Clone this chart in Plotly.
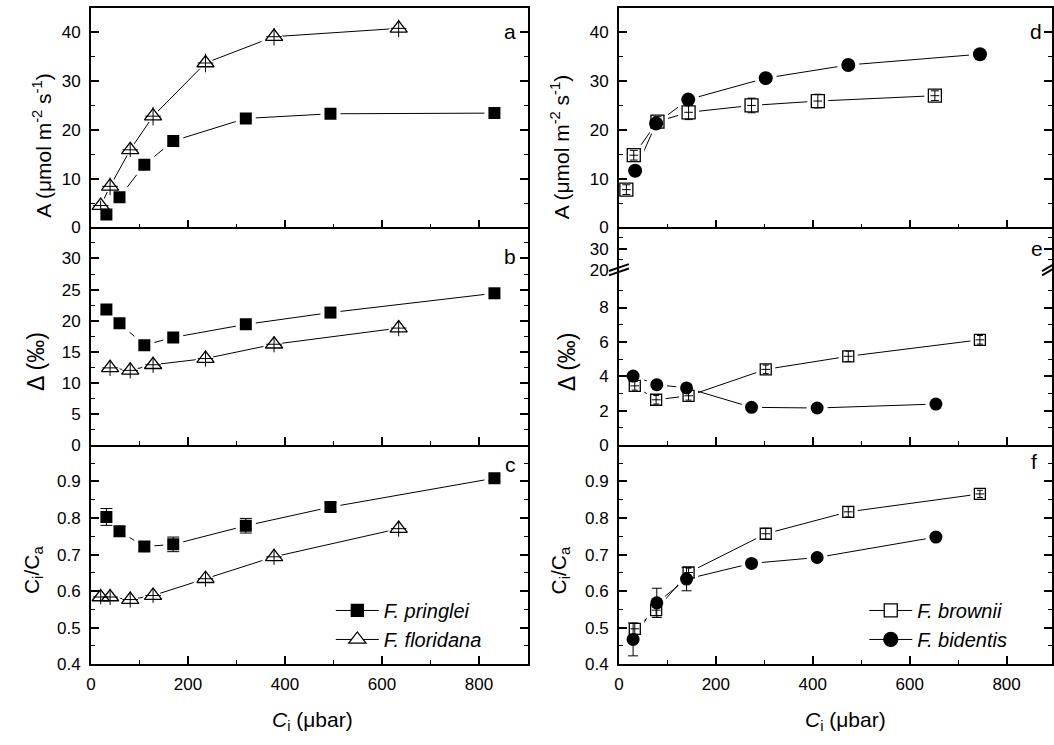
import plotly.graph_objects as go

# ---------------- data ----------------
# F. pringlei (filled squares), panels a-c
pr_ci = [31.9, 58.9, 110.1, 169.7, 319.3, 493.8, 831.8]
pr_A = [2.65, 6.18, 12.84, 17.72, 22.34, 23.29, 23.43]
pr_D = [21.8, 19.6, 16.05, 17.3, 19.4, 21.3, 24.4]
pr_CiCa = [0.803, 0.764, 0.722, 0.728, 0.779, 0.830, 0.909]
pr_CiCa_err = [0.023, 0.013, 0.012, 0.020, 0.020, 0.012, 0.008]

# F. floridana (open triangles), panels a-c
fl_ci = [20.1, 39.5, 81.0, 128.1, 236.2, 377.5, 634.4]
fl_A = [4.48, 8.42, 15.9, 22.8, 33.7, 39.1, 40.8]
fl_A_err = [1.0, 1.8, 1.5, 1.9, 1.9, 1.8, 1.8]
fl_D_ci = [39.5, 81.0, 128.1, 236.2, 377.5, 634.4]
fl_D = [12.4, 12.0, 12.9, 13.9, 16.2, 18.8]
fl_D_err = [1.3, 1.3, 1.3, 1.3, 1.3, 1.3]
fl_CiCa = [0.584, 0.584, 0.577, 0.588, 0.634, 0.694, 0.771]
fl_CiCa_err = [0.020, 0.022, 0.022, 0.020, 0.022, 0.022, 0.022]
fl_ci_err = [16, 16, 16, 16, 16, 16, 16]

# F. brownii (open squares), panels d-f
br_ci_d = [15.4, 30.7, 79.6, 143.8, 273.7, 410.5, 652.0]
br_A = [7.74, 14.8, 21.7, 23.6, 25.0, 25.9, 27.0]
br_A_err = [1.0, 1.0, 1.0, 1.5, 1.5, 1.4, 1.0]
br_ci_ef = [32.8, 76.8, 143.8, 303.0, 473.3, 744.9]
br_D = [3.44, 2.63, 2.86, 4.40, 5.16, 6.12]
br_D_err = [0.25, 0.25, 0.25, 0.25, 0.3, 0.25]
br_CiCa = [0.497, 0.548, 0.651, 0.757, 0.817, 0.866]
br_CiCa_err = [0.015, 0.015, 0.012, 0.015, 0.014, 0.010]
br_ci_err = [9, 9, 9, 9, 9, 9, 9]

# F. bidentis (filled circles), panels d-f
bi_ci_d = [33.5, 76.8, 143.1, 303.0, 473.3, 745.0]
bi_A = [11.6, 21.3, 26.2, 30.6, 33.3, 35.5]
bi_ci_ef = [29.3, 78.2, 139.6, 273.7, 409.1, 654.1]
bi_D = [4.01, 3.51, 3.32, 2.19, 2.15, 2.38]
bi_CiCa = [0.468, 0.568, 0.633, 0.676, 0.692, 0.748]
bi_CiCa_err = [0.045, 0.040, 0.032, 0.010, 0.010, 0.010]

x_ticks = [0, 200, 400, 600, 800]
x_minor = [100, 300, 500, 700]

# ---------------- helpers ----------------
W, H = 1054, 745
FONT = "Liberation Sans, Arial, Helvetica, sans-serif"


def px(v):
    return v / W


def py(v):
    return 1 - v / H


series = []


def add(xa, ya, x, y, sym, size, filled, name=None, legend=None,
        ex=None, ey=None, capx=0, capy=0):
    series.append(dict(xa=xa, ya=ya, x=x, y=y, sym=sym, size=size, filled=filled,
                       name=name, legend=legend, ex=ex, ey=ey, capx=capx, capy=capy))


# panel a
add('x', 'y', pr_ci, pr_A, 'square', 12, True, '<i>F. pringlei</i>', 'legend')
add('x', 'y', fl_ci, fl_A, 'triangle-up', 15, False, '<i>F. floridana</i>', 'legend',
    ex=fl_ci_err, ey=fl_A_err)
# panel b
add('x2', 'y2', pr_ci, pr_D, 'square', 12, True)
add('x2', 'y2', fl_D_ci, fl_D, 'triangle-up', 15, False, ex=fl_ci_err[:6], ey=fl_D_err)
# panel c
add('x3', 'y3', pr_ci, pr_CiCa, 'square', 12, True, ey=pr_CiCa_err, capy=6)
add('x3', 'y3', fl_ci, fl_CiCa, 'triangle-up', 15, False, ex=fl_ci_err, ey=fl_CiCa_err)
# panel d
add('x4', 'y4', br_ci_d, br_A, 'square', 13, False, '<i>F. brownii</i>', 'legend2',
    ex=br_ci_err, ey=br_A_err, capx=0, capy=4)
add('x4', 'y4', bi_ci_d, bi_A, 'circle', 14, True, '<i>F. bidentis</i>', 'legend2')
# panel e
add('x5', 'y5', br_ci_ef, br_D, 'square', 11, False, ex=br_ci_err[:6], ey=br_D_err, capy=3)
add('x5', 'y5', bi_ci_ef, bi_D, 'circle', 13, True)
# panel f
add('x6', 'y6', br_ci_ef, br_CiCa, 'square', 11, False, ex=br_ci_err[:6], ey=br_CiCa_err, capy=3)
add('x6', 'y6', bi_ci_ef, bi_CiCa, 'circle', 13, True, ey=bi_CiCa_err, capy=5)

fig = go.Figure()

# pass 1: connecting lines (and legend entries)
for s in series:
    fill = 'black' if s['filled'] else 'white'
    fig.add_trace(go.Scatter(
        x=s['x'], y=s['y'], xaxis=s['xa'], yaxis=s['ya'],
        mode='lines+markers' if s['name'] else 'lines',
        line=dict(color='black', width=1),
        marker=dict(symbol=s['sym'], size=s['size'], color=fill,
                    line=dict(color='black', width=1.3)),
        name=s['name'] or '', showlegend=bool(s['name']),
        legend=s['legend'] or 'legend', hoverinfo='skip'))

# pass 2: white halos (gap between line and marker)
for s in series:
    fig.add_trace(go.Scatter(
        x=s['x'], y=s['y'], xaxis=s['xa'], yaxis=s['ya'], mode='markers',
        marker=dict(symbol=s['sym'], size=s['size'] + 8, color='white',
                    line=dict(width=0)),
        showlegend=False, hoverinfo='skip'))

# pass 3: markers with error bars
for s in series:
    if s['filled']:
        mk = dict(symbol=s['sym'], size=s['size'], color='black', line=dict(width=0))
    else:
        mk = dict(symbol=s['sym'] + '-open', size=s['size'], color='black',
                  line=dict(color='black', width=1.3))
    kw = {}
    if s['ex'] is not None:
        kw['error_x'] = dict(type='data', array=s['ex'], visible=True, color='black',
                             thickness=1, width=s['capx'])
    if s['ey'] is not None:
        kw['error_y'] = dict(type='data', array=s['ey'], visible=True, color='black',
                             thickness=1, width=s['capy'])
    fig.add_trace(go.Scatter(
        x=s['x'], y=s['y'], xaxis=s['xa'], yaxis=s['ya'], mode='markers',
        marker=mk, showlegend=False, hoverinfo='skip', **kw))

# placeholder so the upper (broken) segment of panel e is drawn
fig.add_trace(go.Scatter(x=[None], y=[None], xaxis='x5', yaxis='y7', showlegend=False,
                         hoverinfo='skip'))

# ---------------- axes ----------------
tickfont = dict(family=FONT, size=17, color='black')

XL = [px(86.5), px(526)]
XR = [px(618), 1.0]
XR_RANGE = [0, (1054 - 618) / (390.3 / 800)]

DA = [py(230.5), py(8)]
DB = [py(451), py(230.5)]
DC = [py(673.3), py(451)]
E_BREAK = 273.4
DE_LOW = [py(451), py(E_BREAK)]
DE_UP = [py(E_BREAK), py(230.5)]


def xcfg(domain, rng, anchor, labels, mirror):
    return dict(domain=domain, range=rng, anchor=anchor, showline=True, linecolor='black',
                linewidth=1.6, mirror=mirror, ticks='inside', ticklen=8, tickwidth=1.5,
                tickcolor='black', tickmode='array', tickvals=x_ticks,
                showticklabels=labels, ticklabelstandoff=4,
                minor=dict(tickmode='array', tickvals=x_minor, ticks='inside', ticklen=4,
                           tickwidth=1, tickcolor='black', showgrid=False),
                showgrid=False, zeroline=False, tickfont=tickfont, fixedrange=True)


def ycfg(domain, rng, anchor, vals, minor):
    return dict(domain=domain, range=rng, anchor=anchor, showline=True, linecolor='black',
                linewidth=1.6, mirror='ticks', ticks='inside', ticklen=8, tickwidth=1.5,
                tickcolor='black', tickmode='array', tickvals=vals, ticklabelstandoff=5,
                minor=dict(tickmode='array', tickvals=minor, ticks='inside', ticklen=4,
                           tickwidth=1, tickcolor='black', showgrid=False),
                showgrid=False, zeroline=False, tickfont=tickfont, fixedrange=True)


A_vals, A_minor = [0, 10, 20, 30, 40], [5, 15, 25, 35]
D_vals, D_minor = [0, 5, 10, 15, 20, 25, 30], [2.5, 7.5, 12.5, 17.5, 22.5, 27.5, 32.5]
C_vals, C_minor = [0.4, 0.5, 0.6, 0.7, 0.8, 0.9], [0.45, 0.55, 0.65, 0.75, 0.85, 0.95]

layout_axes = dict(
    xaxis=xcfg(XL, [0, 900], 'y', False, True),
    xaxis2=xcfg(XL, [0, 900], 'y2', False, False),
    xaxis3=xcfg(XL, [0, 900], 'y3', True, False),
    xaxis4=xcfg(XR, XR_RANGE, 'y4', False, True),
    xaxis5=xcfg(XR, XR_RANGE, 'y5', False, False),
    xaxis6=xcfg(XR, XR_RANGE, 'y6', True, False),
    yaxis=ycfg(DA, [0, 45], 'x', A_vals, A_minor),
    yaxis2=ycfg(DB, [0, 35], 'x2', D_vals, D_minor),
    yaxis3=ycfg(DC, [0.4, 1.0], 'x3', C_vals, C_minor),
    yaxis4=ycfg(DA, [0, 45], 'x4', A_vals, A_minor),
    yaxis5=ycfg(DE_LOW, [0, 10.2], 'x5', [0, 2, 4, 6, 8], [1, 3, 5, 7, 9]),
    yaxis6=ycfg(DC, [0.4, 1.0], 'x6', C_vals, C_minor),
    yaxis7=ycfg(DE_UP, [20, 40], 'x5', [20, 30], [25, 35]),
)

legend_common = dict(font=dict(family=FONT, size=20, color='black'), bgcolor='rgba(0,0,0,0)',
                     borderwidth=0, xanchor='left', yanchor='top', itemsizing='trace',
                     tracegroupgap=0, traceorder='normal', itemwidth=43)

fig.update_layout(
    width=W, height=H, autosize=False,
    margin=dict(l=0, r=0, t=0, b=0, pad=0),
    paper_bgcolor='white', plot_bgcolor='white',
    font=dict(family=FONT, color='black'),
    legend=dict(x=px(328), y=py(599), **legend_common),
    legend2=dict(x=px(865), y=py(599), **legend_common),
    **layout_axes)

# ---------------- annotations ----------------
ann = []


def text(x, y, s, size, angle=0, xanchor='center', yanchor='middle'):
    ann.append(dict(x=px(x), y=py(y), xref='paper', yref='paper', text=s, showarrow=False,
                    textangle=angle, xanchor=xanchor, yanchor=yanchor,
                    font=dict(family=FONT, size=size, color='black')))


# panel letters
for lx, ly, lt in [(516, 32, 'a'), (516, 260, 'b'), (516, 471, 'c'),
                   (1046, 32, 'd'), (1047, 252, 'e'), (1041, 468, 'f')]:
    text(lx, ly, lt, 21, xanchor='right')

# axis titles
A_title = 'A (μmol m<sup>-2</sup> s<sup>-1</sup>)'
D_title = 'Δ (‰)'
C_title = 'C<sub>i</sub>/C<sub>a</sub>'
X_title = '<i>C</i><sub>i</sub> (μbar)'
text(37, 148, A_title, 21, -90)
text(31, 366, D_title, 23, -90)
text(28, 578, C_title, 21, -90)
text(559, 149, A_title, 21, -90)
text(566, 367, D_title, 23, -90)
text(559, 578, C_title, 21, -90)
text(310, 731, X_title, 21)
text(846, 731, X_title, 21)

fig.update_layout(annotations=ann)

# axis-break marks on panel e
shapes = []
for x0 in (608, 1044):
    x1 = x0 + (20 if x0 < 1000 else 12)
    for dy in (-2.2, 2.2):
        shapes.append(dict(type='line', xref='paper', yref='paper',
                           x0=px(x0), x1=px(x1),
                           y0=py(E_BREAK + dy + 3.5), y1=py(E_BREAK + dy - 3.5),
                           line=dict(color='black', width=2)))
fig.update_layout(shapes=shapes)

fig.write_html("out.html")
